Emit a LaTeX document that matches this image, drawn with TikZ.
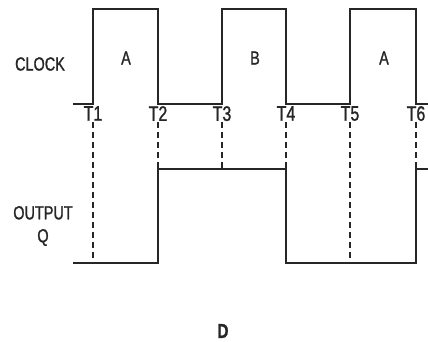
\documentclass[tikz,border=0pt]{standalone}
\usepackage{fontspec}
\setmainfont{Liberation Sans}[FakeStretch=0.76,FakeBold=1.2]
\usetikzlibrary{positioning}
\tikzset{
  wave/.style={line width=1.8pt,line join=miter,draw=black!85},
  guide/.style={line width=1.1pt,dash pattern=on 6pt off 4pt,draw=black!85},
  tag/.style={font=\fontsize{19}{23}\selectfont,inner sep=1pt,text=black!85},
}

\begin{document}
\begin{tikzpicture}[x=1pt,y=-1pt]
        \useasboundingbox (0,0) rectangle (428,342);
        % levels
        \coordinate (hi) at (0,9);
        \coordinate (qhi) at (0,169);
        \coordinate (lo) at (0,263);
        \foreach \n/\x in {1/93,2/158,3/222,4/286,5/350,6/416}
          \coordinate (t\n) at (\x,104);
        % clock
        \draw[wave] (73,104) -- (t1) |- (t2 |- hi) -- (t2) -- (t3) |- (t4 |- hi) -- (t4)
          -- (t5) |- (t6 |- hi) -- (t6) -- (428,104);
        % output q
        \draw[wave] (73,263) -- (t2 |- lo) -- (t2 |- qhi) -- (t4 |- qhi) -- (t4 |- lo)
          -- (t6 |- lo) -- (t6 |- qhi) -- (428,169);
        % time marks
        \foreach \n/\e in {1/lo,2/qhi,3/qhi,4/qhi,5/lo,6/qhi} {
          \node[tag,font=\fontsize{21}{24}\selectfont,below=1pt of t\n] (lt\n) {T\n};
          \draw[guide] (lt\n.south) -- (t\n |- \e);
        }
        \node[tag] (clk) at (40,64) {CLOCK};
        \node[tag] (pa) at (126,58) {A};
        \node[tag] (pb) at (255,58) {B};
        \node[tag] (pc) at (384,58) {A};
        \node[tag,align=center] (outq) at (43,226) {OUTPUT\\Q};
        \node[tag,inner sep=0pt,font=\fontsize{20}{24}\selectfont\bfseries] (cap) at (223,331) {D};
      \end{tikzpicture}
\end{document}
